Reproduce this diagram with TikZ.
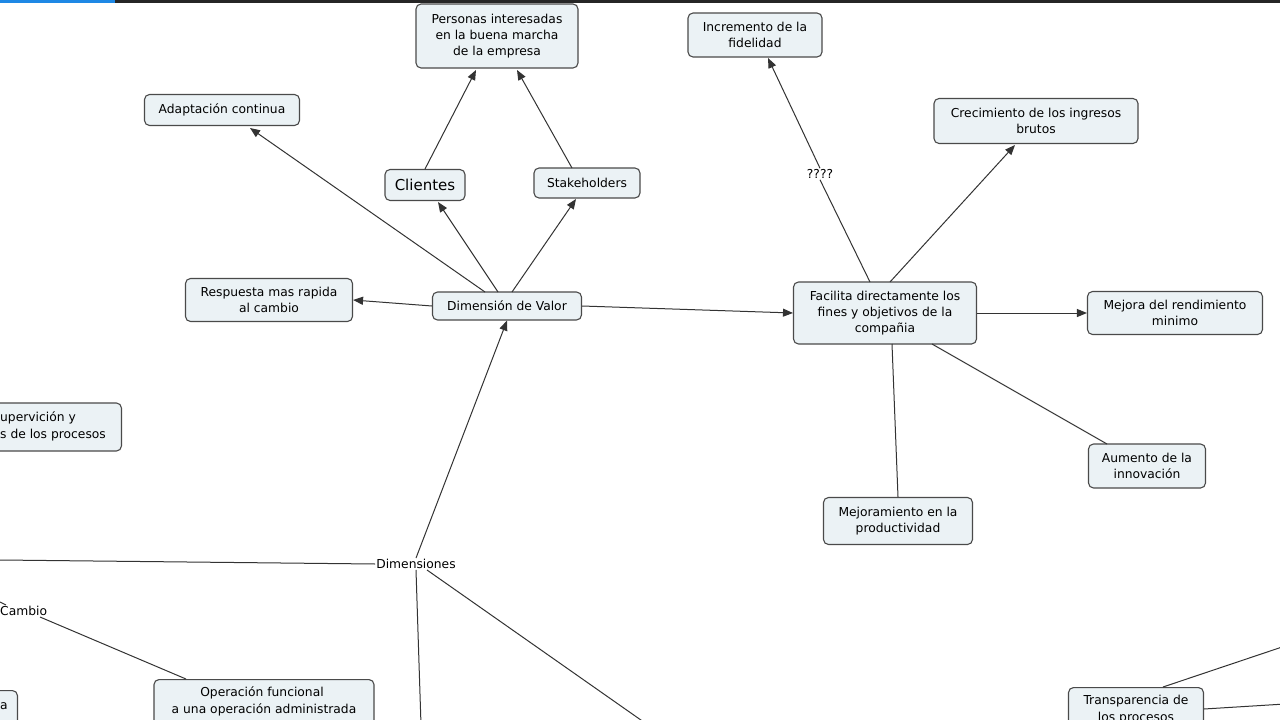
\documentclass[tikz,border=0pt]{standalone}
\usepackage{fontspec}
\setmainfont{DejaVu Sans}
\usetikzlibrary{arrows.meta}
\definecolor{boxfill}{HTML}{EBF2F5}
\definecolor{boxline}{HTML}{4A4A4A}
\definecolor{barblue}{HTML}{1E88E5}
\tikzset{
 cbox/.style={draw=boxline,fill=boxfill,rounded corners=5pt,line width=1.1pt,align=center,font=\fontsize{12.3}{16}\selectfont,inner sep=0pt},
 lbl/.style={fill=white,inner sep=1pt,font=\fontsize{12.3}{15}\selectfont},
 txt/.style={inner sep=0pt,font=\fontsize{12.3}{15}\selectfont},
 con/.style={draw=black!80,line width=1pt},
 arr/.style={con,-{Triangle[length=10pt,width=8pt]}}
}
\begin{document}
\begin{tikzpicture}[x=1pt,y=-1pt]
\useasboundingbox (0,0) rectangle (1280,720);
\clip (0,0) rectangle (1280,720);
\fill[black!85] (0,0) rectangle (1280,3);
\fill[barblue] (0,0) rectangle (115,3);
% nodes
\node[cbox,minimum width=162,minimum height=64] (per) at (497,36) {Personas interesadas\\en la buena marcha\\de la empresa};
\node[cbox,minimum width=134,minimum height=44] (inc) at (755,35) {Incremento de la\\fidelidad};
\node[cbox,minimum width=155,minimum height=31] (ada) at (222,110) {Adaptación continua};
\node[cbox,minimum width=204,minimum height=45] (cre) at (1036,121) {Crecimiento de los ingresos\\brutos};
\node[cbox,minimum width=80,minimum height=31,font=\fontsize{15}{17}\selectfont] (cli) at (425,185) {Clientes};
\node[cbox,minimum width=106,minimum height=30] (sta) at (587,183) {Stakeholders};
\node[cbox,minimum width=167,minimum height=43] (res) at (269,300) {Respuesta mas rapida\\al cambio};
\node[cbox,minimum width=149,minimum height=28] (dv) at (507,306) {Dimensión de Valor};
\node[cbox,minimum width=183,minimum height=62] (fac) at (885,313) {Facilita directamente los\\fines y objetivos de la\\compañia};
\node[cbox,minimum width=175,minimum height=43] (mej) at (1175,313) {Mejora del rendimiento\\minimo};
\node[cbox,minimum width=117,minimum height=44] (aum) at (1147,466) {Aumento de la\\innovación};
\node[cbox,minimum width=149,minimum height=47] (mpr) at (898,521) {Mejoramiento en la\\productividad};
\node[cbox,minimum width=160,minimum height=48,anchor=east] (sup) at (122,427) {};
\node[txt,anchor=west] (sup1) at (0,418) {upervición y};
\node[txt,anchor=west] (sup2) at (0,435) {s de los procesos};
\node[lbl] (dim) at (416,564) {Dimensiones};
\node[txt,anchor=west] (cam) at (0,611) {Cambio};
\node[cbox,minimum width=220,minimum height=60,anchor=north] (ope) at (264,679) {};
\node[txt] (ope1) at (262,693) {Operación funcional};
\node[txt] (ope2) at (264,710) {a una operación administrada};
\node[cbox,minimum width=60,minimum height=60,anchor=north east] (aa) at (18,690) {};
\node[txt,anchor=west] (aa1) at (0,706) {a};
\node[cbox,minimum width=135,minimum height=60,anchor=north] (tra) at (1136,687) {};
\node[txt] (tra1) at (1136,701) {Transparencia de};
\node[txt] (tra2) at (1136,718) {los procesos};
\node[lbl] (q) at (820,174) {????};
\coordinate (eL) at (0,560);
\coordinate (eD) at (421,725);
\coordinate (eDR) at (648,725);
\coordinate (eT1) at (1285,646);
\coordinate (eT2) at (1285,704);
% connectors
\draw[arr] (425,169) -- (476,70);
\draw[arr] (572,168) -- (517,70);
\draw[arr] (485,292) -- (250,128);
\draw[arr] (498,292) -- (438,202);
\draw[arr] (512,292) -- (576,199);
\draw[arr] (dv.west) -- (res.east);
\draw[arr] (dv.east) -- (fac.west);
\draw[arr] (dim.north) -- (dv.south);
\draw[con] (870,282) -- (q.south);
\draw[arr] (q.north) -- (768,58);
\draw[arr] (890,282) -- (1015,145);
\draw[arr] (fac.east) -- (mej.west);
\draw[con] (932,344) -- (1107,444);
\draw[con] (892,344) -- (mpr.north);
\draw[con] (dim.west) -- (eL);
\draw[con] (dim.south) -- (eD);
\draw[con] (427,570) -- (eDR);
\draw[con] (40,617) -- (186,679);
\draw[con] (0,602) -- (6,605);
\draw[con] (1163,687) -- (eT1);
\draw[con] (1204,709) -- (eT2);
\end{tikzpicture}
\end{document}
